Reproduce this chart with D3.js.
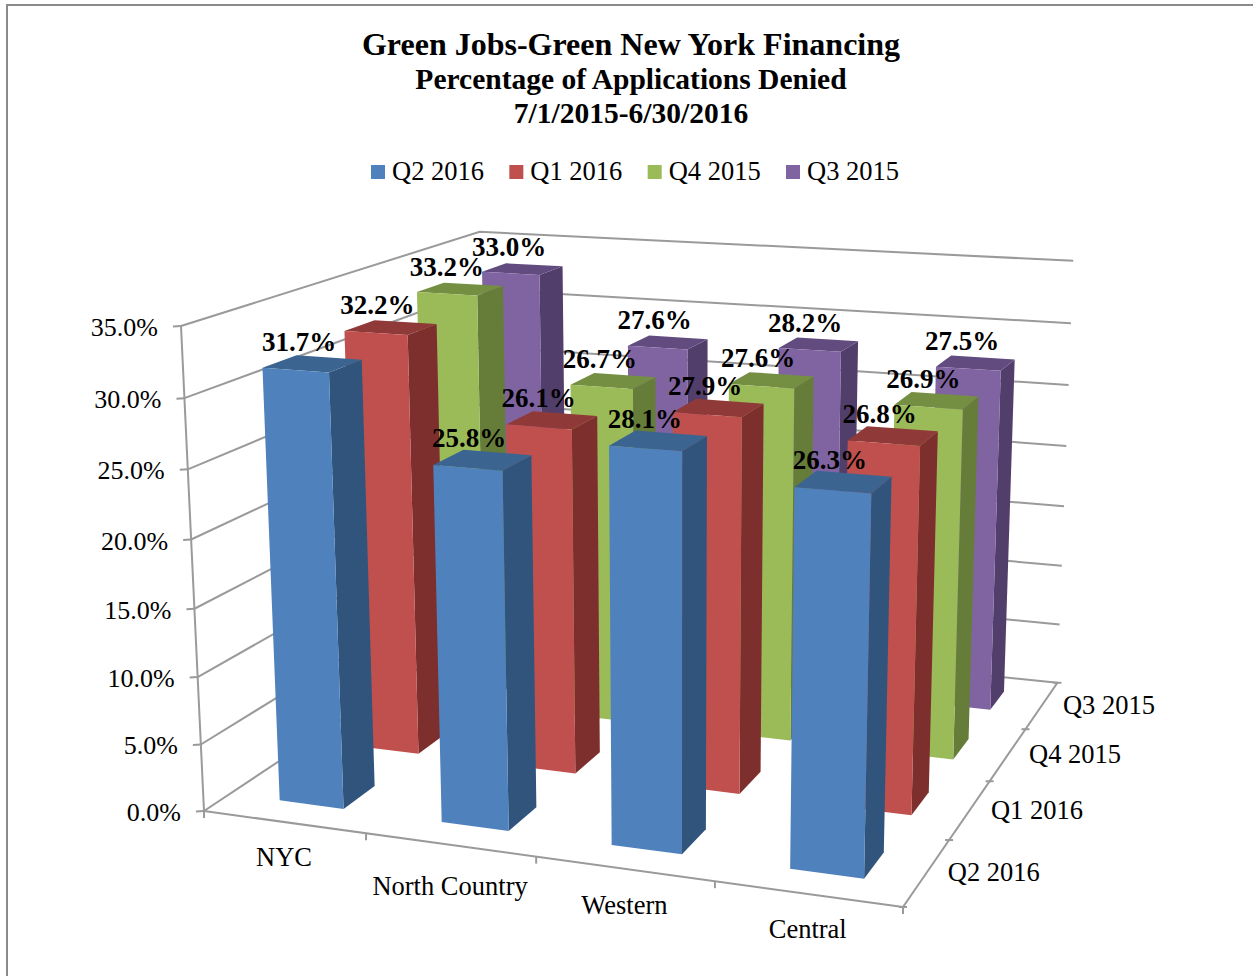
<!DOCTYPE html>
<html>
<head>
<meta charset="utf-8">
<script src="https://cdn.jsdelivr.net/npm/d3@7"></script>
<style>
  body { margin: 0; background: #fff; }
  text { font-family: "Liberation Serif", serif; fill: #000; }
</style>
</head>
<body>
<div id="chart"></div>
<script>
var svgWidth = 1253;
var svgHeight = 976;

var categories = ["NYC", "North Country", "Western", "Central"];
var seriesNames = ["Q2 2016", "Q1 2016", "Q4 2015", "Q3 2015"];
var q2_2016 = [31.7, 25.8, 28.1, 26.3];
var q1_2016 = [32.2, 26.1, 27.9, 26.8];
var q4_2015 = [33.2, 26.7, 27.6, 26.9];
var q3_2015 = [33.0, 27.6, 28.2, 27.5];
var seriesValues = [q2_2016, q1_2016, q4_2015, q3_2015];
var valueTicks = [0, 5, 10, 15, 20, 25, 30, 35];
var titleLines = ["Green Jobs-Green New York Financing", "Percentage of Applications Denied", "7/1/2015-6/30/2016"];

var colors = {
  "Q2 2016": { front: "#4F81BD", side: "#31547C", top: "#3B6491" },
  "Q1 2016": { front: "#C0504D", side: "#7D2F2D", top: "#8F3A38" },
  "Q4 2015": { front: "#9BBB59", side: "#667C39", top: "#748F41" },
  "Q3 2015": { front: "#8064A2", side: "#523E6A", top: "#624B7F" }
};
var axisColor = "#9a9a9a";

var svg = d3.select("#chart").append("svg")
  .attr("width", svgWidth)
  .attr("height", svgHeight)
  .style("display", "block");

// frame of the chart area, only the top and left edges are in the picture
svg.append("path")
  .attr("d", "M7,976V5H1253")
  .attr("fill", "none")
  .attr("stroke", "#8a8a8a")
  .attr("stroke-width", 2);

// perspective box: corners of the unit cube on screen plus the three vanishing terms
var cornerA = [204, 811], cornerB = [903, 907], cornerD = [487, 623], cornerE = [181, 326];
var persp = { u: -0.0945, v: 0.251, w: -0.0463 };

function project(u, v, w) {
  var d = 1 + persp.u * u + persp.v * v + persp.w * w;
  return [0, 1].map(function (i) {
    return (cornerA[i]
      + u * (cornerB[i] * (1 + persp.u) - cornerA[i])
      + v * (cornerD[i] * (1 + persp.v) - cornerA[i])
      + w * (cornerE[i] * (1 + persp.w) - cornerA[i])) / d;
  });
}

var x = d3.scaleBand().domain(categories).range([0.004, 1.004]).paddingInner(0.6).paddingOuter(0.3);
var z = d3.scaleBand().domain(seriesNames).range([0, 1]).paddingInner(0.6).paddingOuter(0.3);
var y = d3.scaleLinear().domain([0, 35]).range([0, 1]);

var line = d3.line();
function seg(p, q, g) {
  g.append("path").attr("d", line([p, q]))
    .attr("fill", "none").attr("stroke", axisColor).attr("stroke-width", 2);
}

var wallGroup = svg.append("g");

// gridlines on left wall and back wall
valueTicks.forEach(function (t) {
  var w = y(t);
  wallGroup.append("path")
    .attr("d", line([project(0, 0, w), project(0, 1, w), project(1, 1, w)]))
    .attr("fill", "none").attr("stroke", axisColor).attr("stroke-width", 2);
  // tick to the left of the value axis
  var a = project(0, 0, w);
  seg([a[0] - 8, a[1] + 0.5], a, wallGroup);
});
seg(project(0, 0, 0), project(0, 0, 1), wallGroup);
seg(project(0, 0, 0), project(1, 0, 0), wallGroup);
seg(project(1, 0, 0), project(1, 1, 0), wallGroup);

// ticks under the category axis and beside the depth axis
d3.range(0, 5).forEach(function (i) {
  var a = project(i / 4, 0, 0);
  seg(a, [a[0], a[1] + 7], wallGroup);
  var b = project(1, i / 4, 0);
  seg([b[0] - 4, b[1]], [b[0] + 4, b[1]], wallGroup);
});

// bars, back row first
var barGroup = svg.append("g");
d3.range(seriesNames.length - 1, -1, -1).forEach(function (s) {
  var name = seriesNames[s];
  var v0 = z(name), v1 = v0 + z.bandwidth();
  categories.forEach(function (cat, c) {
    var u0 = x(cat), u1 = u0 + x.bandwidth(), h = y(seriesValues[s][c]);
    var faces = [
      { fill: colors[name].side, pts: [[u1, v0, 0], [u1, v1, 0], [u1, v1, h], [u1, v0, h]] },
      { fill: colors[name].top, pts: [[u0, v0, h], [u1, v0, h], [u1, v1, h], [u0, v1, h]] },
      { fill: colors[name].front, pts: [[u0, v0, 0], [u1, v0, 0], [u1, v0, h], [u0, v0, h]] }
    ];
    faces.forEach(function (f) {
      barGroup.append("path")
        .attr("d", line(f.pts.map(function (p) { return project(p[0], p[1], p[2]); })) + "Z")
        .attr("fill", f.fill);
    });
  });
});

// data labels go over all bars
var labelGroup = svg.append("g");
seriesNames.forEach(function (name, s) {
  categories.forEach(function (cat, c) {
    var val = seriesValues[s][c];
    var p = project(x(cat) + x.bandwidth() / 2, z(name) + z.bandwidth() / 2, y(val));
    labelGroup.append("text")
      .attr("x", p[0] - 13.5)
      .attr("y", p[1] - 13)
      .attr("text-anchor", "middle")
      .style("font-size", "27px")
      .style("font-weight", "bold")
      .text(val.toFixed(1) + "%");
  });
});

// value axis labels
valueTicks.forEach(function (t) {
  var a = project(0, 0, y(t));
  svg.append("text")
    .attr("x", a[0] - 23)
    .attr("y", a[1] + 10)
    .attr("text-anchor", "end")
    .style("font-size", "26px")
    .text(t.toFixed(1) + "%");
});

// category labels, Excel does not place them on one line
var categoryDrop = [44, 50, 45, 44];
categories.forEach(function (cat, i) {
  var a = project((i + 0.5) / 4, 0, 0);
  svg.append("text")
    .attr("x", a[0])
    .attr("y", a[1] + categoryDrop[i])
    .attr("text-anchor", "middle")
    .style("font-size", "26.5px")
    .text(cat);
});

// depth axis labels
seriesNames.forEach(function (name, i) {
  var a = project(1, (i + 0.5) / 4, 0);
  svg.append("text")
    .attr("x", a[0] + 21)
    .attr("y", a[1] + 9)
    .style("font-size", "26.5px")
    .text(name);
});

// title
var titleSizes = [32, 29.5, 29.5], titleY = [55, 89, 123];
titleLines.forEach(function (t, i) {
  svg.append("text")
    .attr("x", 631)
    .attr("y", titleY[i])
    .attr("text-anchor", "middle")
    .style("font-size", titleSizes[i] + "px")
    .style("font-weight", "bold")
    .text(t);
});

// legend
var legendX = d3.scalePoint().domain(seriesNames).range([371, 786]);
seriesNames.forEach(function (name) {
  var g = svg.append("g").attr("transform", "translate(" + legendX(name) + ",165)");
  g.append("rect").attr("width", 14).attr("height", 14).attr("fill", colors[name].front);
  g.append("text").attr("x", 21).attr("y", 15).style("font-size", "26.5px").text(name);
});
</script>
</body>
</html>
